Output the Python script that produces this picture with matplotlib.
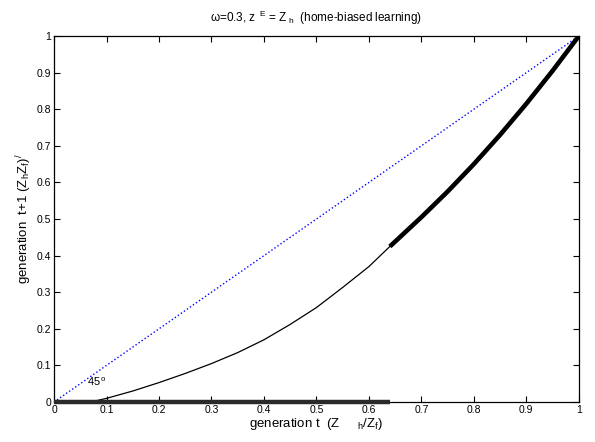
import matplotlib
matplotlib.use("Agg")
import matplotlib.pyplot as plt

plt.rcParams['font.family'] = ['Liberation Sans', 'DejaVu Sans']
plt.rcParams['mathtext.fontset'] = 'custom'
plt.rcParams['mathtext.rm'] = 'Liberation Sans'
plt.rcParams['mathtext.it'] = 'Liberation Sans'

# Mapping curve
thin_x = [0.07, 0.1, 0.15, 0.2, 0.25, 0.3, 0.35, 0.4, 0.45, 0.5, 0.55, 0.6, 0.64]
thin_y = [0.0, 0.01, 0.03, 0.053, 0.078, 0.105, 0.135, 0.17, 0.212, 0.258, 0.313, 0.37, 0.425]
thick_x = [0.64, 0.7, 0.75, 0.8, 0.85, 0.9, 0.95, 1.0]
thick_y = [0.425, 0.505, 0.575, 0.65, 0.73, 0.815, 0.905, 1.0]
# Steady-state band on the horizontal axis
band_x = [0.0, 0.64]
band_y = [0.0, 0.0]
# 45 degree line
diag = [0.0, 1.0]
ticks = [0, 0.1, 0.2, 0.3, 0.4, 0.5, 0.6, 0.7, 0.8, 0.9, 1]
tick_labels = ['0', '0.1', '0.2', '0.3', '0.4', '0.5', '0.6', '0.7', '0.8', '0.9', '1']

fig = plt.figure(figsize=(5.95, 4.42), dpi=100)
ax = fig.add_axes([0.0908, 0.0905, 0.882, 0.828])

ax.plot(diag, diag, color='blue', linestyle=':', lw=1.0)
ax.plot(thin_x, thin_y, color='black', lw=0.9)
ax.plot(thick_x, thick_y, color='black', lw=3.3, solid_capstyle='butt')
ax.plot(band_x, band_y, color='#2a2a2a', lw=3.2, solid_capstyle='butt', clip_on=False, zorder=3)

ax.text(0.062, 0.045, '45$^{\\,o}$', fontsize=8)

ax.set_xlim(0, 1)
ax.set_ylim(0, 1)
ax.set_xticks(ticks)
ax.set_xticklabels(tick_labels)
ax.set_yticks(ticks)
ax.set_yticklabels(tick_labels)
ax.tick_params(direction='in', top=True, right=True, labelsize=7.5, length=4, width=0.8, pad=2)
for s in ax.spines.values():
    s.set_linewidth(0.9)

ax.set_title('\u03c9=0.3, z$^{\\ \\ E}$ = Z$_{\\ h}$  (home-biased learning)', fontsize=8.5, pad=10)
ax.set_xlabel('generation t  (Z$\\ \\ \\ \\ \\ _h$/Z$_f$)', fontsize=9.5, labelpad=1)
ax.set_ylabel('generation  t+1 (Z$_h$Z$_f$)$^{/}$', fontsize=9.5, labelpad=2)

fig.savefig('out.png', dpi=100)
